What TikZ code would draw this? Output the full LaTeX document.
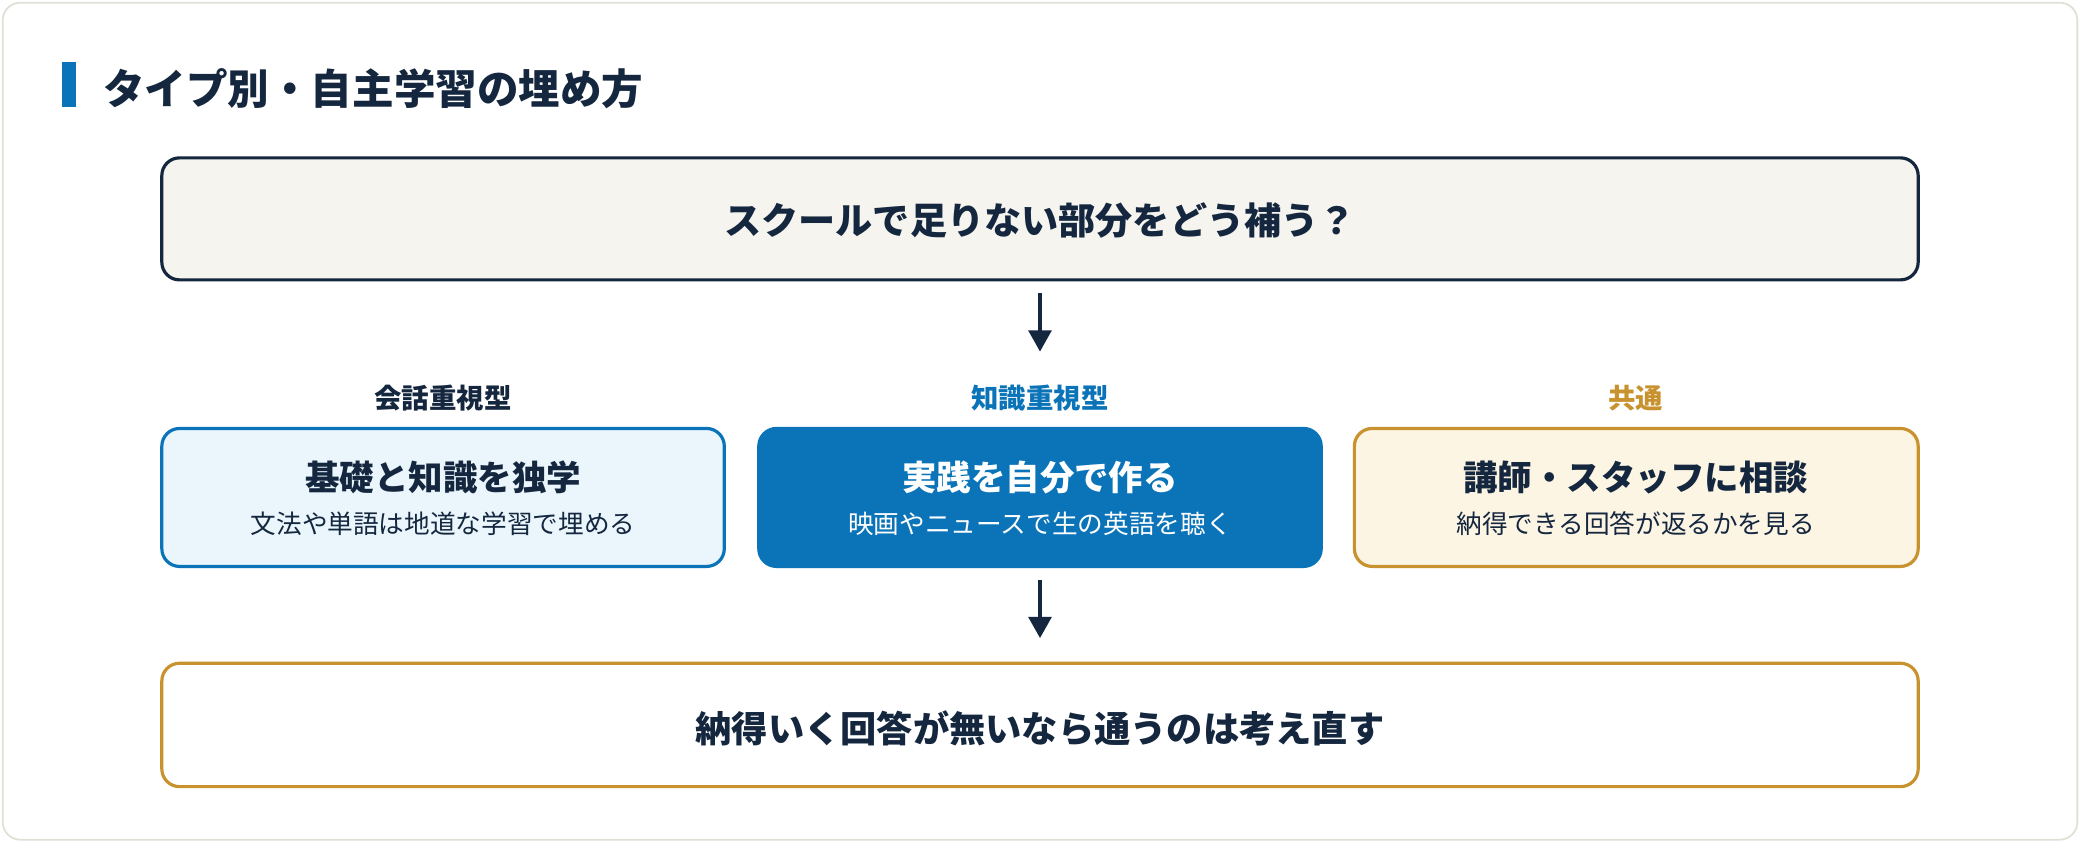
\documentclass[tikz,border=0pt]{standalone}
\usepackage{fontspec}
\setmainfont{Noto Sans CJK JP}
\usetikzlibrary{arrows.meta}
\definecolor{navy}{HTML}{14273F}
\definecolor{blu}{HTML}{0B74B8}
\definecolor{gold}{HTML}{C8922E}
\definecolor{beige}{HTML}{F5F4EF}
\definecolor{lblue}{HTML}{EAF6FC}
\definecolor{lgold}{HTML}{FDF5E4}
\definecolor{frame}{HTML}{E2E0D6}
\begin{document}
\begin{tikzpicture}[x=0.75pt,y=-0.75pt,
  box/.style={rounded corners=10pt,line width=1.8pt},
  txt/.style={font=\bfseries\fontsize{21pt}{24pt}\selectfont,text=navy},
  lab/.style={font=\bfseries\fontsize{15.5pt}{18pt}\selectfont},
  arr/.style={draw=navy,line width=1.8pt,-{Triangle[length=12pt,width=13pt]}}]
\useasboundingbox (0,0) rectangle (1568,635);
\fill[white] (0,0) rectangle (1568,635);
\draw[frame,line width=1pt,rounded corners=10pt] (2,2) rectangle (1566,633);
\fill[blu] (47,47) rectangle (57,81);
\node[anchor=west,font=\bfseries\fontsize{23.5pt}{26pt}\selectfont,text=navy] (title) at (73,67) {タイプ別・自主学習の埋め方};
\draw[box,draw=navy,fill=beige] (122,119) rectangle (1446,211);
\node[txt] (q) at (784,166) {スクールで足りない部分をどう補う？};
\coordinate (a1) at (784,221); \coordinate (a2) at (784,265);
\draw[arr] (a1) -- (a2);
\node[lab,text=navy] (l1) at (334,300) {会話重視型};
\node[lab,text=blu] (l2) at (784,300) {知識重視型};
\node[lab,text=gold] (l3) at (1233,300) {共通};
\draw[box,draw=blu,fill=lblue] (122,323) rectangle (546,427);
\draw[box,draw=blu,fill=blu] (572,323) rectangle (996,427);
\draw[box,draw=gold,fill=lgold] (1021,323) rectangle (1446,427);
\node[font=\bfseries\fontsize{19.5pt}{22pt}\selectfont,text=navy] (t1) at (334,360) {基礎と知識を独学};
\node[font=\fontsize{14.5pt}{17pt}\selectfont,text=navy] (s1) at (334,395) {文法や単語は地道な学習で埋める};
\node[font=\bfseries\fontsize{19.5pt}{22pt}\selectfont,text=white] (t2) at (784,360) {実践を自分で作る};
\node[font=\fontsize{14.5pt}{17pt}\selectfont,text=white] (s2) at (784,395) {映画やニュースで生の英語を聴く};
\node[font=\bfseries\fontsize{19.5pt}{22pt}\selectfont,text=navy] (t3) at (1233,360) {講師・スタッフに相談};
\node[font=\fontsize{14.5pt}{17pt}\selectfont,text=navy] (s3) at (1233,395) {納得できる回答が返るかを見る};
\coordinate (b1) at (784,437); \coordinate (b2) at (784,481);
\draw[arr] (b1) -- (b2);
\draw[box,draw=gold,fill=white] (122,500) rectangle (1446,593);
\node[font=\bfseries\fontsize{20.5pt}{24pt}\selectfont,text=navy] (r) at (784,549) {納得いく回答が無いなら通うのは考え直す};
\end{tikzpicture}
\end{document}
